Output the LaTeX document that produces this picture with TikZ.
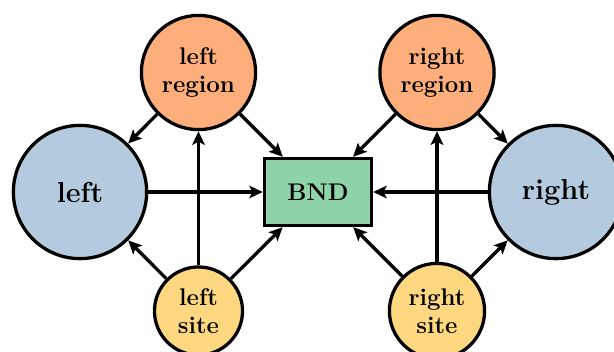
\documentclass[tikz,border=0pt]{standalone}
\usetikzlibrary{arrows.meta}
\definecolor{cOrange}{HTML}{FDAE7B}
\definecolor{cBlue}{HTML}{B3CADF}
\definecolor{cGreen}{HTML}{8FD4A8}
\definecolor{cYellow}{HTML}{FED880}
\tikzset{
  base/.style={draw=black, line width=1.7pt, inner sep=0pt, align=center, font=\fontsize{12.5}{14.8}\selectfont\bfseries},
  regionnode/.style={base, circle, fill=cOrange, minimum size=59.4pt},
  bignode/.style={base, circle, fill=cBlue, minimum size=69.3pt, font=\fontsize{15}{18}\selectfont\bfseries},
  sitenode/.style={base, circle, fill=cYellow},
  bndnode/.style={base, rectangle, fill=cGreen, minimum width=55.7pt, minimum height=34.9pt},
  conn/.style={line width=1.7pt, -{Stealth[length=7pt,width=6.5pt,inset=1.5pt]}}
}
\begin{document}
\begin{tikzpicture}[x=0.52pt,y=-0.52pt]
\useasboundingbox (0,0) rectangle (614,351);
\node[bignode] (left) at (80,192) {left};
\node[bignode] (right) at (556,192) {right};
\node[regionnode] (lreg) at (198.5,72.5) {left\\region};
\node[regionnode] (rreg) at (437,72.5) {right\\region};
\node[sitenode, minimum size=45.8pt] (lsite) at (198.5,311) {left\\site};
\node[sitenode, minimum size=49.5pt] (rsite) at (437,311) {right\\site};
\node[bndnode] (bnd) at (318,192) {BND};
\draw[conn] (lreg) -- (left);
\draw[conn] (lreg) -- (bnd);
\draw[conn] (left) -- (bnd);
\draw[conn] (lsite) -- (lreg);
\draw[conn] (lsite) -- (left);
\draw[conn] (lsite) -- (bnd);
\draw[conn] (rreg) -- (right);
\draw[conn] (rreg) -- (bnd);
\draw[conn] (right) -- (bnd);
\draw[conn] (rsite) -- (rreg);
\draw[conn] (rsite) -- (right);
\draw[conn] (rsite) -- (bnd);
\end{tikzpicture}
\end{document}
